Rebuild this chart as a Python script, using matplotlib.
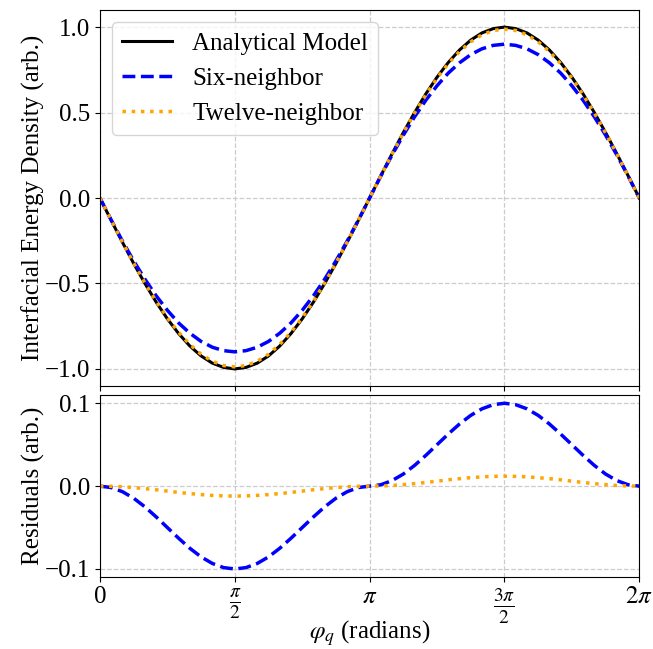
import numpy as np
import matplotlib
matplotlib.use("Agg")
import matplotlib.pyplot as plt

plt.rcParams['font.family'] = ['Liberation Serif', 'DejaVu Serif']
plt.rcParams['mathtext.fontset'] = 'stix'
plt.rcParams['font.size'] = 18
plt.rcParams['axes.unicode_minus'] = True

# sample angles: 49 points from 0 to 2*pi
phi = np.linspace(0, 2 * np.pi, 49)

analytical = [0.0, -0.131, -0.259, -0.383, -0.5, -0.609, -0.707, -0.793, -0.866, -0.924, -0.966, -0.991, -1.0,
              -0.991, -0.966, -0.924, -0.866, -0.793, -0.707, -0.609, -0.5, -0.383, -0.259, -0.131, 0.0,
              0.131, 0.259, 0.383, 0.5, 0.609, 0.707, 0.793, 0.866, 0.924, 0.966, 0.991, 1.0,
              0.991, 0.966, 0.924, 0.866, 0.793, 0.707, 0.609, 0.5, 0.383, 0.259, 0.131, 0.0]

six_neighbor = [0.0, -0.129, -0.252, -0.368, -0.475, -0.572, -0.657, -0.731, -0.791, -0.839, -0.873, -0.893, -0.9,
                -0.893, -0.873, -0.839, -0.791, -0.731, -0.657, -0.572, -0.475, -0.368, -0.252, -0.129, 0.0,
                0.129, 0.252, 0.368, 0.475, 0.572, 0.657, 0.731, 0.791, 0.839, 0.873, 0.893, 0.9,
                0.893, 0.873, 0.839, 0.791, 0.731, 0.657, 0.572, 0.475, 0.368, 0.252, 0.129, 0.0]

twelve_neighbor = [0.0, -0.130, -0.258, -0.381, -0.497, -0.604, -0.701, -0.786, -0.857, -0.914, -0.955, -0.980, -0.988,
                   -0.980, -0.955, -0.914, -0.857, -0.786, -0.701, -0.604, -0.497, -0.381, -0.258, -0.130, 0.0,
                   0.130, 0.258, 0.381, 0.497, 0.604, 0.701, 0.786, 0.857, 0.914, 0.955, 0.980, 0.988,
                   0.980, 0.955, 0.914, 0.857, 0.786, 0.701, 0.604, 0.497, 0.381, 0.258, 0.130, 0.0]

resid_six = [0.0, -0.0017, -0.0067, -0.0146, -0.025, -0.0371, -0.05, -0.0629, -0.075, -0.0854, -0.0933, -0.0983, -0.1,
             -0.0983, -0.0933, -0.0854, -0.075, -0.0629, -0.05, -0.0371, -0.025, -0.0146, -0.0067, -0.0017, 0.0,
             0.0017, 0.0067, 0.0146, 0.025, 0.0371, 0.05, 0.0629, 0.075, 0.0854, 0.0933, 0.0983, 0.1,
             0.0983, 0.0933, 0.0854, 0.075, 0.0629, 0.05, 0.0371, 0.025, 0.0146, 0.0067, 0.0017, 0.0]

resid_twelve = [0.0, -0.0002, -0.0008, -0.0018, -0.003, -0.0044, -0.006, -0.0076, -0.009, -0.0102, -0.0112, -0.0118, -0.012,
                -0.0118, -0.0112, -0.0102, -0.009, -0.0076, -0.006, -0.0044, -0.003, -0.0018, -0.0008, -0.0002, 0.0,
                0.0002, 0.0008, 0.0018, 0.003, 0.0044, 0.006, 0.0076, 0.009, 0.0102, 0.0112, 0.0118, 0.012,
                0.0118, 0.0112, 0.0102, 0.009, 0.0076, 0.006, 0.0044, 0.003, 0.0018, 0.0008, 0.0002, 0.0]

xtick_vals = [0, np.pi / 2, np.pi, 3 * np.pi / 2, 2 * np.pi]
xtick_labels = ['0', r'$\frac{\pi}{2}$', r'$\pi$', r'$\frac{3\pi}{2}$', r'$2\pi$']

fig = plt.figure(figsize=(6.53, 6.49), dpi=100)
ax1 = fig.add_axes([0.1531, 0.4052, 0.979 - 0.1531, 0.9846 - 0.4052])
ax2 = fig.add_axes([0.1531, 0.1105, 0.979 - 0.1531, 0.3914 - 0.1105], sharex=ax1)

ax1.plot(phi, analytical, color='black', lw=2.2, label='Analytical Model')
ax1.plot(phi, six_neighbor, color='blue', lw=2.5, ls='--', label='Six-neighbor')
ax1.plot(phi, twelve_neighbor, color='orange', lw=2.5, ls=':', label='Twelve-neighbor')
ax1.set_ylabel('Interfacial Energy Density (arb.)', labelpad=0)
ax1.set_yticks([-1.0, -0.5, 0.0, 0.5, 1.0])
ax1.grid(True, ls='--', color='#cccccc', lw=0.9)
ax1.legend(loc='upper left')
ax1.tick_params(labelbottom=False)

ax2.plot(phi, resid_six, color='blue', lw=2.5, ls='--')
ax2.plot(phi, resid_twelve, color='orange', lw=2.5, ls=':')
ax2.set_ylabel('Residuals (arb.)', labelpad=0)
ax2.set_yticks([-0.1, 0.0, 0.1])
ax2.grid(True, ls='--', color='#cccccc', lw=0.9)
ax2.set_xticks(xtick_vals)
ax2.set_xticklabels(xtick_labels)
for lbl in ax2.get_xticklabels():
    if 'frac' in lbl.get_text():
        lbl.set_fontsize(20)
ax2.tick_params(axis='x', pad=3)
ax2.set_xlim(0, 2 * np.pi)
ax2.set_xlabel(r'$\varphi_q$ (radians)')
ax2.xaxis.set_label_coords(0.5, -0.225)

fig.savefig('out.png', dpi=100)
